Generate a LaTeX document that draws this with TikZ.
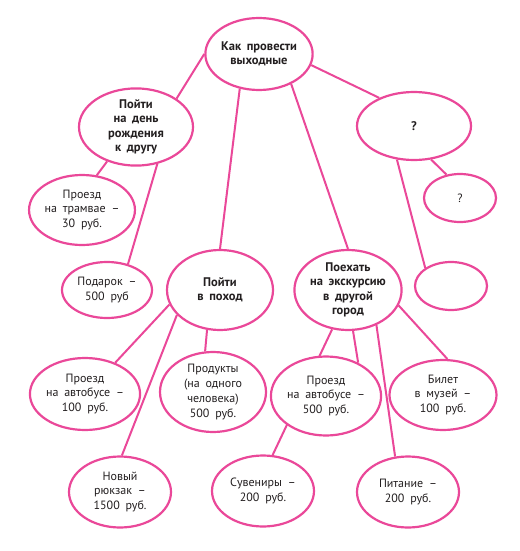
\documentclass[tikz,border=0pt]{standalone}
\usepackage{fontspec}
\setmainfont{PT Sans}[WordSpace=1.8]
\usetikzlibrary{shapes.geometric}
\definecolor{mappink}{RGB}{234,72,153}
\definecolor{maptext}{RGB}{35,31,32}
\pgfdeclarelayer{bg}
\pgfsetlayers{bg,main}

\begin{document}
\begin{tikzpicture}[x=1pt,y=-1pt]
\tikzset{
  idea/.style={ellipse,draw=mappink,line width=2.2pt,fill=white,inner sep=0pt,align=center,text=maptext,font=\fontsize{12}{14.8}\selectfont},
  mainidea/.style={idea,font=\fontsize{12.5}{14.4}\selectfont\bfseries},
  link/.style={draw=mappink,line width=2pt}
}
\useasboundingbox (0,0) rectangle (519,551);
% top level
\node[mainidea,minimum width=106pt,minimum height=72pt] (root) at (259,54) {Как провести\\выходные};
\node[mainidea,minimum width=114pt,minimum height=72pt] (bday) at (136,127) {Пойти\\на день\\рождения\\к другу};
\node[mainidea,minimum width=114pt,minimum height=68pt] (quest) at (414,126) {?};
\node[mainidea,minimum width=106pt,minimum height=80pt] (hike) at (220,290) {Пойти\\в поход};
\node[mainidea,minimum width=106pt,minimum height=80pt] (trip) at (348,290) {Поехать\\на экскурсию\\в другой\\город};
% costs
\node[idea,minimum width=72pt,minimum height=48pt] (questsmall) at (460,198) {?};
\node[idea,minimum width=72pt,minimum height=48pt] (blank) at (451,286) {};
\node[idea,minimum width=101pt,minimum height=70pt] (tram) at (82,210) {Проезд\\на трамвае –\\30 руб.};
\node[idea,minimum width=90pt,minimum height=56pt] (gift) at (107,290) {Подарок –\\500 руб};
\node[idea,minimum width=106pt,minimum height=72pt] (bus1) at (85,394) {Проезд\\на автобусе –\\100 руб.};
\node[idea,minimum width=106pt,minimum height=80pt] (food) at (213,392) {Продукты\\(на одного\\человека)\\500 руб.};
\node[idea,minimum width=107pt,minimum height=79pt] (bus2) at (326,396) {Проезд\\на автобусе –\\500 руб.};
\node[idea,minimum width=107pt,minimum height=70pt] (museum) at (443,395) {Билет\\в музей –\\100 руб.};
\node[idea,minimum width=102pt,minimum height=71pt] (bag) at (120,492) {Новый\\рюкзак –\\1500 руб.};
\node[idea,minimum width=102pt,minimum height=71pt] (souv) at (263,491) {Сувениры –\\200 руб.};
\node[idea,minimum width=102pt,minimum height=71pt] (meal) at (408,492) {Питание –\\200 руб.};
% links
\begin{pgfonlayer}{bg}
\draw[link] (root.180) -- (bday.35);
\draw[link] (root.241) -- (hike.90);
\draw[link] (root.317) -- (trip.90);
\draw[link] (root.348) -- (quest.141);
\draw[link] (bday.230) -- (tram.67);
\draw[link] (bday.300) -- (gift.51);
\draw[link] (quest.297) -- (questsmall.120);
\draw[link] (quest.243) -- (blank.145);
\draw[link] (hike.196) -- (bus1.46);
\draw[link] (hike.252) -- (food.101);
\draw[link] (hike.210) -- (bag.87);
\draw[link] (trip.248) -- (souv.75);
\draw[link] (trip.277) -- (bus2.46);
\draw[link] (trip.309) -- (meal.110);
\draw[link] (trip.343) -- (museum.83);
\end{pgfonlayer}
\end{tikzpicture}
\end{document}
